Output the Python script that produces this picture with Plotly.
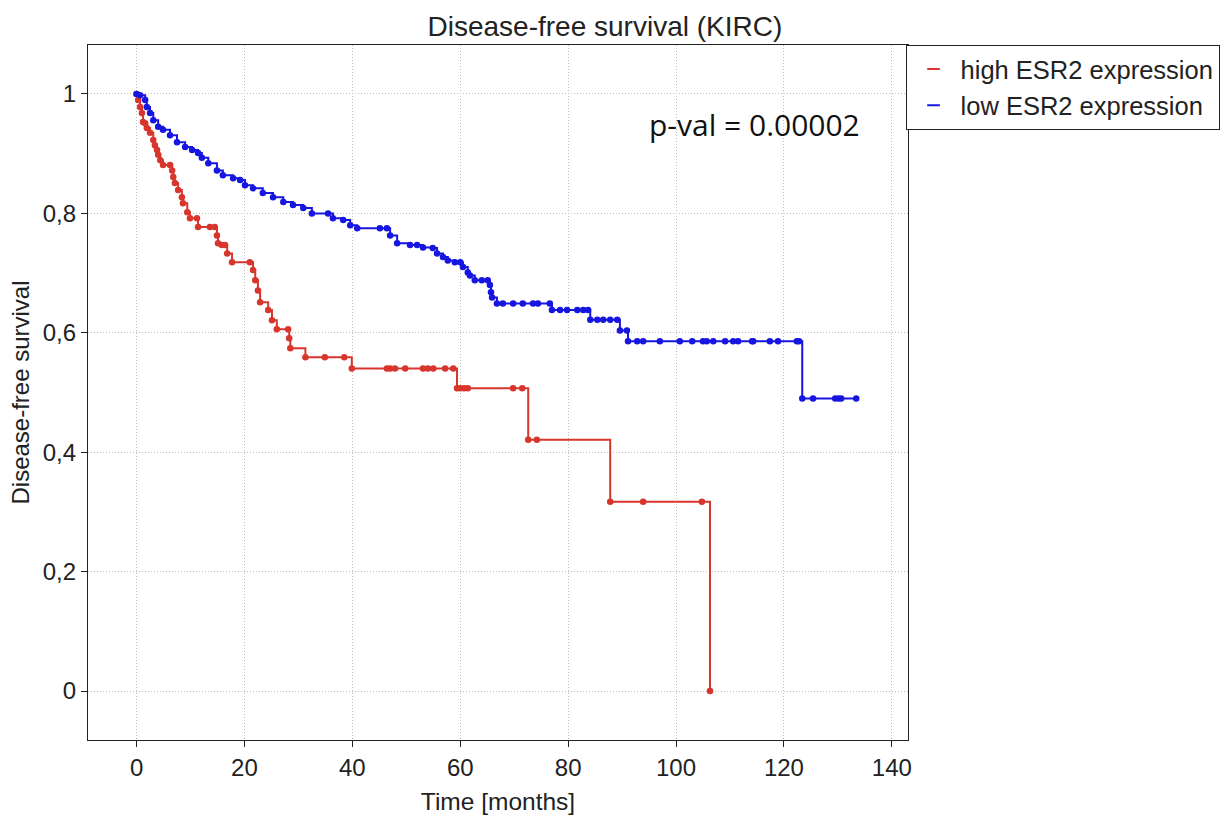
import plotly.graph_objects as go

# ---- data ----
high_time = [0, 0.3, 0.65, 1.0, 1.2, 1.6, 1.9, 2.5, 3.1, 3.4, 3.8, 4.0, 4.4, 4.9, 6.2, 6.6, 6.8,
             7.1, 7.7, 8.4, 8.6, 9.4, 9.9, 11.2, 11.4, 13.6, 14.5, 14.9, 15.1, 15.8, 16.4, 16.8,
             17.7, 21.0, 21.6, 22.0, 22.5, 22.9, 24.4, 25.1, 26.0, 28.1, 28.3, 28.5, 31.3, 34.9,
             38.5, 39.9, 46.4, 47.0, 47.9, 49.8, 53.1, 54.0, 55.0, 57.2, 58.7, 59.4, 60.0, 60.7,
             61.4, 69.8, 71.5, 72.6, 74.2, 87.8, 93.9, 104.8, 106.3]
high_surv = [1.0, 0.99, 0.978, 0.968, 0.953, 0.951, 0.943, 0.935, 0.923, 0.914, 0.906, 0.898,
             0.889, 0.881, 0.881, 0.872, 0.861, 0.851, 0.839, 0.827, 0.817, 0.802, 0.792, 0.792,
             0.777, 0.777, 0.777, 0.763, 0.750, 0.747, 0.747, 0.733, 0.718, 0.718, 0.705, 0.688,
             0.671, 0.651, 0.638, 0.621, 0.606, 0.606, 0.591, 0.574, 0.559, 0.559, 0.559, 0.540,
             0.540, 0.540, 0.540, 0.540, 0.540, 0.540, 0.540, 0.540, 0.540, 0.507, 0.507, 0.507,
             0.507, 0.507, 0.507, 0.421, 0.421, 0.317, 0.317, 0.317, 0.0]

low_time = [0, 0.65, 1.6, 1.9, 2.5, 3.1, 4.0, 4.9, 6.2, 7.5, 9.0, 10.3, 11.4, 12.1, 13.3, 14.9,
            16.0, 17.9, 19.2, 20.1, 21.6, 23.4, 25.3, 27.2, 29.0, 30.9, 32.5, 35.5, 36.4, 38.3,
            39.6, 40.9, 45.1, 46.4, 47.0, 48.3, 50.7, 52.0, 53.1, 54.9, 55.7, 56.8, 57.7, 59.0,
            60.0, 60.5, 61.4, 61.8, 62.7, 64.0, 65.1, 65.5, 65.7, 65.9, 66.8, 67.9, 69.8, 71.6,
            73.5, 74.4, 76.6, 77.0, 78.5, 79.8, 81.7, 82.8, 83.7, 84.1, 85.4, 86.5, 87.8, 89.1,
            89.6, 90.9, 91.1, 92.8, 93.9, 97.0, 100.7, 103.0, 105.0, 105.7, 106.9, 109.1, 110.6,
            111.5, 114.1, 114.3, 117.4, 118.9, 122.4, 122.8, 123.4, 125.4, 129.5, 130.1, 130.6,
            133.4]
low_surv = [1.0, 0.998, 0.990, 0.978, 0.968, 0.956, 0.945, 0.940, 0.931, 0.919, 0.911, 0.906,
            0.901, 0.893, 0.884, 0.872, 0.864, 0.859, 0.856, 0.847, 0.842, 0.834, 0.827, 0.819,
            0.814, 0.809, 0.800, 0.800, 0.792, 0.789, 0.780, 0.775, 0.775, 0.775, 0.763, 0.750,
            0.747, 0.747, 0.743, 0.742, 0.733, 0.727, 0.721, 0.718, 0.718, 0.710, 0.701, 0.696,
            0.688, 0.688, 0.688, 0.680, 0.668, 0.659, 0.649, 0.649, 0.649, 0.649, 0.649, 0.649,
            0.649, 0.638, 0.638, 0.638, 0.638, 0.638, 0.638, 0.622, 0.622, 0.622, 0.622, 0.622,
            0.604, 0.604, 0.586, 0.586, 0.586, 0.586, 0.586, 0.586, 0.586, 0.586, 0.586, 0.586,
            0.586, 0.586, 0.586, 0.586, 0.586, 0.586, 0.586, 0.586, 0.490, 0.490, 0.490, 0.490,
            0.490, 0.490]

series_names = ["high ESR2 expression", "low ESR2 expression"]
y_tickvals = [0, 0.2, 0.4, 0.6, 0.8, 1]
y_ticktext = ["0", "0,2", "0,4", "0,6", "0,8", "1"]
x_tickvals = [0, 20, 40, 60, 80, 100, 120, 140]
p_text = "p-val = 0.00002"

RED = "#d8352d"
BLUE = "#1616e0"

fig = go.Figure()
fig.add_trace(go.Scatter(x=high_time, y=high_surv, mode="lines+markers", line_shape="hv",
                         line=dict(color=RED, width=2), marker=dict(color=RED, size=6.5),
                         showlegend=False, hoverinfo="x+y"))
fig.add_trace(go.Scatter(x=low_time, y=low_surv, mode="lines+markers", line_shape="hv",
                         line=dict(color=BLUE, width=2), marker=dict(color=BLUE, size=6.5),
                         showlegend=False, hoverinfo="x+y"))
# legend entries (short dash symbols)
for name, col in zip(series_names, [RED, BLUE]):
    fig.add_trace(go.Scatter(x=[None], y=[None], mode="markers", name=name,
                             marker=dict(symbol="line-ew-open", size=9, color=col,
                                         line=dict(color=col, width=2))))

axis_common = dict(showline=True, linecolor="#222", linewidth=1.2, mirror=True,
                   ticks="outside", ticklen=6, tickcolor="#222",
                   showgrid=True, gridcolor="#bdbdbd", gridwidth=1, griddash="1px,2px",
                   zeroline=False, tickfont=dict(size=24, color="#222"))

fig.update_layout(
    width=1227, height=817,
    margin=dict(l=88, r=319, t=45, b=77, autoexpand=False),
    paper_bgcolor="white", plot_bgcolor="white",
    font=dict(family="Liberation Sans, Arial, sans-serif", color="#222"),
    title=dict(text="Disease-free survival (KIRC)", font=dict(size=28, color="#222"),
               xref="container", x=0.493, xanchor="center",
               yref="container", y=1 - 26 / 817, yanchor="middle"),
    xaxis=dict(range=[-9, 143], tickvals=x_tickvals,
               title=dict(text="Time [months]", font=dict(size=24.5), standoff=12),
               **axis_common),
    yaxis=dict(range=[-0.082, 1.082], tickvals=y_tickvals, ticktext=y_ticktext,
               title=dict(text="Disease-free survival", font=dict(size=24), standoff=6),
               **axis_common),
    legend=dict(x=0.997, xanchor="left", y=1.0, yanchor="top",
                bordercolor="#222", borderwidth=1, bgcolor="white",
                font=dict(size=25.5, color="#222"), itemwidth=44),
    showlegend=True,
)

fig.add_annotation(text=p_text, xref="paper", yref="paper", x=0.944, y=0.885,
                   xanchor="right", yanchor="middle", showarrow=False,
                   font=dict(family="Open Sans, sans-serif", size=30, color="#111"))

fig.write_html("out.html")
